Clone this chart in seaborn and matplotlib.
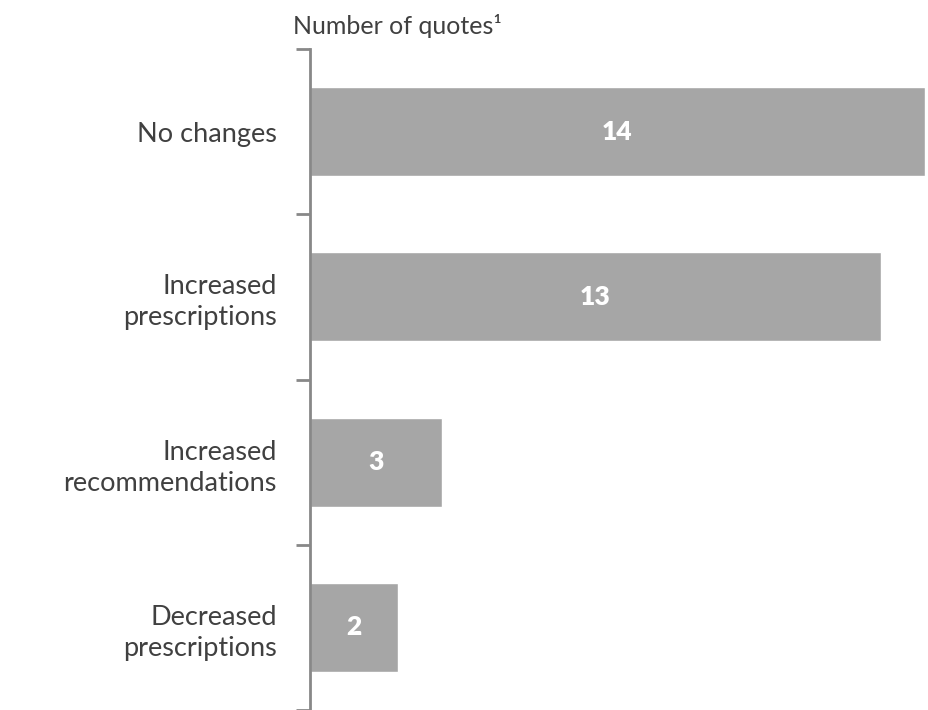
import matplotlib
matplotlib.use('Agg')
import matplotlib.pyplot as plt
import seaborn as sns
import pandas as pd

# ── Data ─────────────────────────────────────────────────────
categories = ["No changes", "Increased\nprescriptions",
              "Increased\nrecommendations", "Decreased\nprescriptions"]
quotes = [14, 13, 3, 2]

df = pd.DataFrame({"category": categories, "quotes": quotes})

# ── Style ────────────────────────────────────────────────────
sns.set_style("white")
plt.rcParams['font.family'] = ['Lato', 'DejaVu Sans']

fig = plt.figure(figsize=(9.29, 7.10), dpi=100)
ax = fig.add_axes([310 / 929, 0.0, 615 / 929, 1 - 49 / 710])

sns.barplot(data=df, x="quotes", y="category", order=categories,
            color="#A6A6A6", saturation=1, width=0.54, ax=ax)

ax.set_xlim(0, 14)
ax.set_ylim(3.5, -0.5)

# value labels inside bars
for i, v in enumerate(quotes):
    ax.text(v / 2, i, str(v), ha='center', va='center',
            color='white', fontsize=19, fontweight='heavy')

# axes / ticks
for s in ['top', 'right', 'bottom']:
    ax.spines[s].set_visible(False)
ax.spines['left'].set_color('#888888')
ax.spines['left'].set_linewidth(2)

ax.set_xticks([])
ax.set_xlabel('')
ax.set_ylabel('')
ax.set_yticks(range(len(categories)))
ax.set_yticklabels(categories, ha='right', multialignment='right',
                   linespacing=1.3)
ax.tick_params(axis='y', which='major', left=False, length=0, pad=24,
               labelsize=19.5, labelcolor='#404040')
ax.set_yticks([-0.5, 0.5, 1.5, 2.5, 3.5], minor=True)
ax.tick_params(axis='y', which='minor', left=True, length=10, width=2,
               color='#888888', direction='out')

fig.text(293 / 929, 1 - 26 / 710, "Number of quotes\u00b9", ha='left',
         va='center', fontsize=18, color='#404040')

plt.savefig("out.png", dpi=100)
